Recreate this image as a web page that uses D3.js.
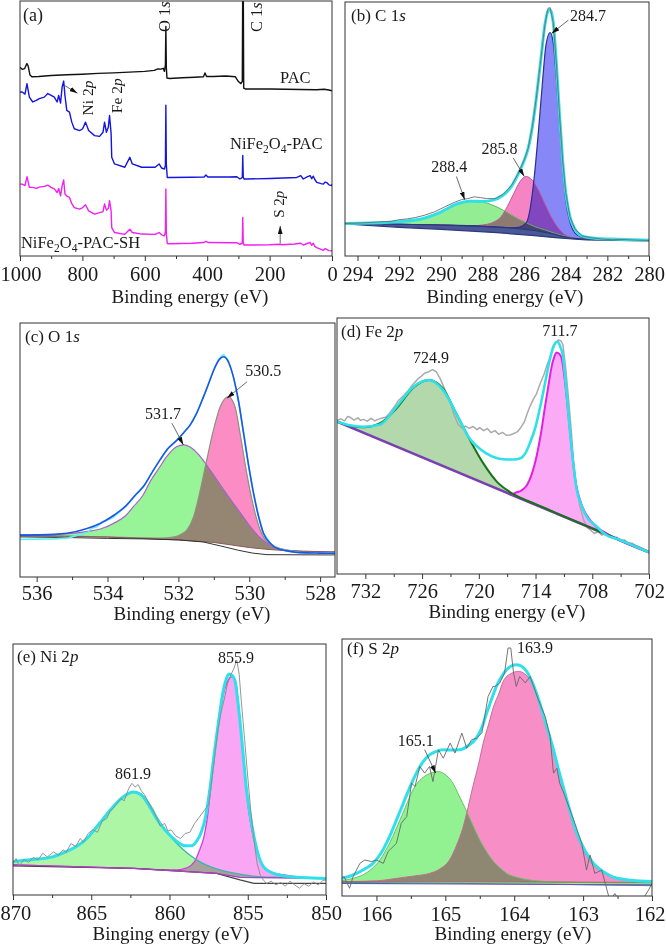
<!DOCTYPE html>
<html>
<head>
<meta charset="utf-8">
<script src="https://cdn.jsdelivr.net/npm/d3@7"></script>
<style>
  body { margin: 0; background: #fff; }
  text { font-family: "Liberation Serif", "Times New Roman", serif; fill: #1a1a1a; }
</style>
</head>
<body>
<script>
var w = 666;
var h = 947;

// ---------- (a) survey spectra, [binding energy, intensity] ----------
var surveyPAC = [[1000,74],[993,73.2],[985,73.5],[978,75.5],[974,74.6],[968,71],[962,70.3],[940,70.4],[900,70.8],[850,71.1],[800,71.3],[750,71.6],[700,71.8],[650,72.1],[600,72.4],[570,72.8],[558,73.4],[548,73.3],[541,73.6],[537,72.4],[534,75],[532.5,90],[531,74],[529,69.8],[520,69.6],[480,69.9],[440,70.1],[412,70.3],[407,71.8],[402,70.4],[380,70.4],[340,70.6],[310,70.3],[300,68.4],[292,67.6],[287.5,68.5],[286,110],[284.5,110],[283,65.8],[278,65.5],[200,65.5],[100,65.3],[50,65.2],[25,65.4],[10,65.1],[0,64.8]];
var surveyNiFe = [[1000,64.3],[993,64.3],[984,63.5],[977.6,67.6],[970,62.3],[959,60.4],[948,61.0],[938,61.7],[922,62.3],[911,63.7],[900,63.0],[890,62.3],[881,60.4],[876,63.0],[870,60.0],[865,66.3],[860,68.6],[856,63.0],[850,57.1],[841.5,56.4],[834,52.5],[826,49.9],[809,49.2],[799,49.9],[790,52.5],[780,49.2],[761,47.2],[745,46.9],[734,48.5],[729,52.5],[723,48.5],[717,50.5],[713,55.1],[708,48.0],[706,38.7],[697,36.1],[664,34.8],[648,38.7],[640,36.1],[610,34.8],[567,34.8],[554,36.1],[546,34.5],[537,34.1],[534,35.5],[532.5,59.1],[531,36],[528,30.8],[520,30.8],[450,30.9],[410,31.0],[404,31.8],[398,31.0],[330,31.0],[305,31.1],[295,30.2],[289,30.6],[287.5,31],[286,39.4],[284.5,31],[282,30.2],[273.6,30.2],[198.6,30.4],[113,30.8],[100,31.5],[92,30.2],[80,31.0],[70,31.5],[65,30.3],[60,31.3],[55,30.0],[49,28.9],[35,28.4],[27.6,28.2],[22,29.0],[17,28.8],[10,27.9],[1,27.6],[0,28.2]];
var surveySH = [[1000,28.2],[993,28.2],[984,27.6],[977.6,31.1],[970,26.9],[959,26.9],[948,26.5],[938,27.0],[922,27.3],[911,27.8],[900,26.9],[890,26.3],[881,24.9],[876,26.5],[870,23.6],[865,27.5],[860,29.8],[856,24.3],[850,23.5],[841.5,23.0],[834,20.5],[826,19.0],[809,18.4],[799,19.0],[790,20.1],[780,17.7],[761,16.4],[745,17.0],[734,17.4],[729,20.4],[723,18.0],[717,18.6],[713,21.7],[708,17.7],[706,11.1],[697,9.2],[664,8.5],[648,10.5],[640,9.2],[610,8.6],[567,8.5],[554,9.2],[546,8.3],[537,7.9],[534,9.5],[532.5,26.3],[531,9],[528,4.9],[520,4.8],[450,5.0],[410,5.3],[404,5.8],[398,5.3],[330,5.2],[305,5.2],[295,4.6],[289,4.9],[287.5,5.5],[286,15.1],[284.5,5.2],[282,4.3],[250,4.3],[200,4.4],[166,4.6],[160,4.4],[120,4.7],[100,5.0],[92,4.3],[80,4.9],[70,5.3],[65,4.2],[60,5.0],[55,3.8],[49,3.3],[35,2.6],[27.6,2.2],[22,2.9],[17,2.6],[10,2.1],[1,2.0],[0,2.4]];
var surveyTicks = [1000, 800, 600, 400, 200, 0];
var surveyMinor = [900, 700, 500, 300, 100];

// ---------- (b) C 1s ----------
var c1sRaw = [[294.6,12.8],[293.8,13.0],[293.0,13.4],[292.4,13.6],[292.0,14.3],[291.6,14.6],[291.2,15.2],[290.8,16.0],[290.3,17.4],[289.8,19.4],[289.3,21.3],[289.0,22.2],[288.7,22.6],[288.4,23.3],[288.1,23.0],[287.8,22.6],[287.4,22.6],[287.0,24.3],[286.6,27.8],[286.3,32.2],[286.0,37.7],[285.8,42.5],[285.6,51],[285.4,63],[285.2,77],[285.0,91],[284.85,97.5],[284.75,97.8],[284.6,92],[284.45,76],[284.3,56],[284.15,38],[284.0,25],[283.8,15.5],[283.55,10.5],[283.2,7.9],[282.8,7.2],[282.3,6.7],[281.8,6.4],[281.3,6.5],[280.8,6.3],[280,6.1]];
var c1sFit = [[294.6,12.8],[292.5,13.3],[291.0,14.5],[290.0,17.3],[289.2,20.6],[288.6,21.6],[288.0,21.5],[287.5,22.0],[287.0,24.0],[286.6,27.5],[286.3,32],[286.0,37.5],[285.8,42.5],[285.6,51],[285.4,63],[285.2,77],[285.0,91],[284.85,96.5],[284.75,97.0],[284.6,92],[284.45,76],[284.3,56],[284.15,38],[284.0,25],[283.8,15.5],[283.55,10.5],[283.2,7.8],[282.5,6.9],[281.5,6.6],[280,6.2]];
var c1sPeakC = [[294.6,12.8],[293,13.0],[292,13.4],[291,14.6],[290.2,16.8],[289.6,19.0],[289,20.8],[288.5,21.5],[288,21.2],[287.5,20.0],[287,18.0],[286.5,15.6],[286,13.5],[285.5,11.6],[285,10.3],[284.5,8.9],[284,7.8],[283.5,7.0],[283,6.6],[280,6.1]];
var c1sPeakB = [[294.6,12.8],[290,12.2],[288.5,11.9],[288,12.2],[287.5,13.2],[287.1,15.5],[286.8,19.5],[286.5,24.5],[286.2,29.2],[285.9,31.3],[285.6,29.8],[285.3,25.8],[285.0,20.5],[284.7,15.5],[284.4,11.5],[284.1,8.8],[283.8,7.4],[283.3,6.7],[280,6.1]];
var c1sPeakA = [[294.6,12.8],[290,12.2],[288,11.7],[287,11.3],[286.5,11.1],[286.2,11.4],[285.9,13],[285.7,19],[285.5,32],[285.3,50],[285.1,70],[284.95,83],[284.75,88],[284.6,84],[284.45,70],[284.3,52],[284.15,35],[284.0,22],[283.8,13.5],[283.55,9],[283.2,7.3],[282.5,6.7],[280,6.2]];
var c1sBase = [[294.6,12.8],[292,12.5],[290,12.2],[288,11.7],[286.5,11.0],[285.5,10.1],[284.8,9.0],[284.2,7.8],[283.7,7.0],[283,6.6],[280,6.1]];
var c1sBase2 = [[294.6,12.6],[292,11.3],[290,10.5],[287.3,9.2],[285.5,8.0],[284.5,7.2],[283.7,6.7],[283,6.3],[280,5.9]];
var c1sTicks = [294, 292, 290, 288, 286, 284, 282, 280];
var c1sMinor = [293, 291, 289, 287, 285, 283, 281];

// ---------- (c) O 1s ----------
var o1sRaw = [[536.47,14.8],[536,14.9],[535.5,15.0],[535.1,15.4],[534.8,16.6],[534.55,17.6],[534.45,19.2],[534.3,19.8],[534.15,21.6],[534.0,22.4],[533.85,23.4],[533.7,25.1],[533.5,27.6],[533.2,32.3],[532.99,35.4],[532.75,41.0],[532.52,46.1],[532.3,50.5],[532.04,53.9],[531.85,56.8],[531.67,59.8],[531.5,64.0],[531.29,71.0],[531.15,76.2],[531.0,81.8],[530.85,86.0],[530.73,87.6],[530.6,85.5],[530.45,79.0],[530.3,69.0],[530.16,56.6],[530.02,44.0],[529.88,33.0],[529.74,24.0],[529.6,17.2],[529.4,13.2],[529.22,11.3],[528.9,10.2],[528.56,9.6],[528,9.4],[527.58,9.3]];
var o1sFit = [[536.47,16.5],[535.5,16.8],[535.15,17.2],[534.6,19.0],[534.21,21.1],[533.8,24.5],[533.46,28.3],[533.2,32.5],[532.99,35.6],[532.75,41.0],[532.52,46.1],[532.3,50.5],[532.04,53.9],[531.85,56.8],[531.67,59.8],[531.5,64.0],[531.29,71.0],[531.15,76.0],[531.0,81.5],[530.85,85.5],[530.73,86.7],[530.6,85.0],[530.45,78.9],[530.3,69.0],[530.16,56.6],[530.02,44.0],[529.88,33.0],[529.74,24.0],[529.6,17.2],[529.4,13.2],[529.22,11.3],[528.9,10.2],[528.56,9.6],[528,9.4],[527.58,9.3]];
var o1sPeakA = [[536.47,16.5],[535.5,16.7],[535,17.2],[534.6,17.9],[534.2,18.9],[533.8,21.3],[533.5,24.0],[533.27,27.7],[533.0,32.2],[532.8,37.5],[532.55,42.8],[532.33,47.4],[532.05,51.3],[531.85,52],[531.6,50.5],[531.38,47.4],[531.15,43],[530.91,38.2],[530.68,33.5],[530.45,29.0],[530.2,24.3],[529.97,19.8],[529.75,16.2],[529.5,13.3],[529.03,10.6],[528.5,10.0],[527.58,9.9]];
var o1sPeakB = [[536.47,16.3],[534,15.8],[533,15.4],[532.5,15.3],[532.1,15.8],[531.9,17.0],[531.76,18.5],[531.57,23.7],[531.38,34.3],[531.2,46.1],[531.01,57.9],[530.82,67.0],[530.59,71.0],[530.4,67.0],[530.26,56.6],[530.07,40.8],[529.88,27.7],[529.69,18.5],[529.5,13.9],[529.03,10.9],[528.5,10.0],[527.58,9.8]];
var o1sBase = [[536.47,16.3],[535,16.0],[534,15.7],[533,15.2],[532,14.6],[531,13.6],[530.5,12.6],[530,11.6],[529.5,10.9],[529,10.4],[528,10.0],[527.58,9.8]];
var o1sShirley = [[536.47,15.8],[535,15.5],[534,15.2],[533,15.0],[532,14.6],[531.3,13.8],[530.8,12.2],[530.3,10.5],[529.9,9.4],[529.5,8.8],[528,8.7],[527.58,8.7]];
var o1sTicks = [536, 534, 532, 530, 528];
var o1sMinor = [535, 533, 531, 529];

// ---------- (d) Fe 2p ----------
var fe2pRaw = [[735,59.9],[734.6,60.6],[734.2,59.8],[733.9,61.5],[733.6,61.2],[733.2,60.1],[732.8,61.0],[732.5,60.0],[732.2,60.4],[731.8,59.7],[731.4,60.8],[731.0,59.8],[730.6,60.5],[730.2,60.9],[729.8,61.3],[729.4,63.0],[728.9,65.5],[728.5,67.8],[728.0,69.5],[727.5,71.5],[727.0,73.9],[726.5,76.0],[726.1,77.2],[725.7,78.5],[725.3,79.0],[724.9,79.8],[724.5,79.0],[724.1,76.4],[723.7,73.0],[723.3,69.5],[723.0,66.7],[722.6,62.0],[722.2,58.5],[721.8,57.0],[721.4,57.8],[721.0,56.9],[720.6,57.6],[720.2,56.4],[719.9,57.2],[719.5,56.0],[719.1,56.8],[718.7,55.2],[718.3,56.0],[717.9,54.6],[717.5,55.3],[717.1,54.2],[716.7,54.3],[716.3,54.9],[715.9,55.6],[715.6,57.0],[715.2,59.3],[714.9,62.5],[714.6,65.4],[714.2,68.5],[713.9,70.4],[713.5,74.5],[713.1,78.0],[712.8,81.5],[712.5,84.3],[712.2,87.5],[711.9,90.0],[711.6,91.4],[711.3,91.0],[711.1,89.5],[710.8,80.0],[710.5,68.0],[710.2,55.0],[710.0,44.5],[709.7,35.0],[709.3,26.3],[708.9,21.0],[708.5,18.0],[708.2,17.2],[707.8,15.8],[707.4,16.5],[707.0,15.2],[706.6,15.7],[706.2,14.5],[705.8,13.9],[705.4,14.4],[705.0,13.0],[704.6,13.3],[704.2,12.1],[703.8,12.0],[703.4,11.2],[703.0,10.6],[702.6,9.8],[702.2,9.1],[702,8.5]];
var fe2pFit = [[735,59.5],[733.5,58.0],[732.2,57.5],[730.45,58.4],[728.7,65.4],[726.9,73.2],[725.3,75.8],[723.8,71.9],[722.2,61.4],[721.1,53.6],[719.2,47.1],[717.4,44.8],[716.3,44.7],[715.6,45.2],[715.1,47.0],[714.6,51.1],[714.0,57.5],[713.5,65.4],[713.0,74.5],[712.5,83.6],[712.1,89.0],[711.7,90.7],[711.4,89.0],[711.1,84.9],[710.75,72.0],[710.4,57.5],[710.05,44.5],[709.7,34.1],[709.1,26.5],[708.6,22.4],[707.6,18.8],[706.8,15.9],[705,13.2],[702,8.5]];
var fe2pPeakA = [[735,59.5],[733.5,57.8],[732.2,57.3],[730.45,58.9],[728.7,64.7],[726.9,72.9],[725.3,75.8],[723.8,72.5],[722.4,62.8],[720.93,52.3],[719.52,43.2],[718.1,36.1],[716.7,32.0],[715.5,29.6],[714,27.3],[712,24.1],[708,17.8],[702,8.5]];
var fe2pPeakB = [[716.5,30.9],[716.2,31.6],[715.5,32.6],[714.9,34.8],[714.4,39.0],[713.9,45.8],[713.4,55.5],[713.0,65.4],[712.6,74.5],[712.3,81.0],[712.0,85.0],[711.8,86.5],[711.5,86.0],[711.2,83.6],[710.85,74.0],[710.5,61.4],[710.15,48.0],[709.8,36.7],[709.35,29.5],[708.9,25.0],[708.2,21.0],[707.5,18.2],[706.5,15.9],[705.8,14.4],[702,8.5]];
var fe2pBase = [[735,59.5],[702,8.5]];
var fe2pTicks = [732, 726, 720, 714, 708, 702];
var fe2pMinor = [729, 723, 717, 711, 705];

// ---------- (e) Ni 2p ----------
var ni2pRaw = [[870.0,12.5],[869.8,14.5],[869.6,11.5],[869.3,14.2],[869.0,13.0],[868.7,15.0],[868.4,14.0],[868.1,16.6],[867.8,15.2],[867.4,17.2],[867.1,15.8],[866.8,18.0],[866.6,17.0],[866.3,20.5],[866.0,19.3],[865.7,22.5],[865.5,21.0],[865.2,24.5],[864.9,26.0],[864.6,25.0],[864.3,29.5],[864.0,30.5],[863.8,33.5],[863.6,34.5],[863.3,37.0],[863.1,38.5],[862.9,37.5],[862.6,42.5],[862.4,44.5],[862.2,43.0],[862.0,44.0],[861.8,41.5],[861.6,40.0],[861.4,37.5],[861.2,35.0],[861.0,33.0],[860.8,30.5],[860.6,27.5],[860.3,28.5],[860.1,25.5],[859.9,26.0],[859.6,23.5],[859.3,22.5],[859.0,24.5],[858.7,25.0],[858.4,28.5],[858.1,31.0],[857.8,33.5],[857.5,36.0],[857.3,45.8],[857.1,56.0],[856.9,66.0],[856.7,73.0],[856.5,78.0],[856.3,84.0],[856.1,87.5],[855.9,90.0],[855.7,93.6],[855.55,88.0],[855.4,76.4],[855.2,62.0],[855.0,47.0],[854.8,33.0],[854.6,22.0],[854.4,12.5],[854.2,8.0],[854.0,6.0],[853.8,4.6],[853.5,5.5],[853.2,4.0],[852.9,5.0],[852.6,3.5],[852.3,5.5],[852.0,4.0],[851.7,2.7],[851.4,4.5],[851.1,3.5],[850.8,5.2],[850.5,4.0],[850.2,5.8],[850.0,6.0]];
var ni2pFit = [[870,13.3],[868.5,14.3],[867.6,15.0],[866.6,17.3],[865.9,19.5],[865.2,23.0],[864.65,27.2],[864.1,31.4],[863.6,35.2],[863.1,38.4],[862.7,40.2],[862.3,41.0],[861.8,39.8],[861.3,35.5],[860.8,30.2],[860.3,26.0],[859.8,22.8],[859.4,20.7],[859.0,19.6],[858.6,19.6],[858.3,21.2],[858.0,24.5],[857.7,31.0],[857.4,43.1],[857.2,53.5],[857.0,63.1],[856.8,72.0],[856.6,80.4],[856.4,85.5],[856.2,88.0],[856.0,87.5],[855.8,85.0],[855.65,78.0],[855.5,69.7],[855.3,56.5],[855.1,43.1],[854.85,32.0],[854.6,23.2],[854.3,15.5],[854.0,11.3],[853.5,9.0],[852.7,7.6],[851.5,7.0],[850,6.6]];
var ni2pPeakA = [[870,13.3],[868.5,14.2],[867.6,15.0],[866.6,17.2],[865.9,19.5],[865.2,23.0],[864.65,27.0],[864.1,31.5],[863.6,35.2],[863.1,38.5],[862.7,40.3],[862.3,41.2],[861.9,40.6],[861.5,38.3],[861.1,34.5],[860.8,31.0],[860.4,27.0],[859.8,22.3],[859.2,18.5],[858.6,15.4],[858.0,13.0],[857.4,11.3],[856.6,9.7],[855.6,8.4],[854.5,7.4],[853,7.0],[850,6.6]];
var ni2pPeakB = [[870,12.0],[862.3,10.6],[859.5,10.0],[858.9,10.8],[858.4,13.3],[858.1,17.5],[857.8,23.2],[857.6,30.0],[857.4,40.5],[857.2,51.5],[857.0,61.8],[856.8,71.0],[856.6,79.0],[856.3,85.0],[856.0,87.0],[855.8,85.5],[855.6,76.4],[855.45,66.0],[855.3,56.4],[855.15,46.0],[855.0,36.5],[854.75,26.5],[854.5,19.2],[854.25,14.5],[854.0,11.3],[853.5,9.0],[852.7,8.0],[851.5,7.0],[850,6.6]];
var ni2pBase = [[870,12.0],[862.3,10.6],[857,8.6],[855.5,7.0],[850,6.6]];
var ni2pShirley = [[870,11.6],[862.3,10.6],[857,8.6],[855.5,6.0],[854.6,4.6],[850,4.6]];
var ni2pTicks = [870, 865, 860, 855, 850];
var ni2pMinor = [867.5, 862.5, 857.5, 852.5];

// ---------- (f) S 2p ----------
var s2pRaw = [[166.5,6.9],[166.47,7.5],[166.39,3.0],[166.34,7.5],[166.24,12.7],[166.17,14.0],[166.07,13.4],[166.0,14.0],[165.9,12.7],[165.83,17.3],[165.71,20.5],[165.64,28.3],[165.56,30.9],[165.49,43.9],[165.44,42.6],[165.37,50.4],[165.3,47.8],[165.23,50.4],[165.18,44.5],[165.1,56.9],[165.03,53.6],[164.93,59.5],[164.86,55.6],[164.76,63.4],[164.69,57.5],[164.62,60.8],[164.55,61.4],[164.47,63.4],[164.38,77.6],[164.31,81.5],[164.28,81.5],[164.21,82.9],[164.14,86.8],[164.09,96.5],[164.05,96.5],[164.01,86.8],[163.97,81.5],[163.92,85.4],[163.84,82.9],[163.77,85.4],[163.65,76.4],[163.55,69.8],[163.48,62.1],[163.43,47.8],[163.38,49.7],[163.34,43.9],[163.26,38.7],[163.19,33.5],[163.12,28.3],[163.02,20.5],[162.95,10.1],[162.9,16.0],[162.83,8.8],[162.73,10.1],[162.61,-2],[162.54,1.0],[162.45,-3],[162.3,-4],[162.15,-2],[162.05,2.3],[162.0,4.9]];
var s2pFit = [[166.5,6.9],[166.4,7.6],[166.29,8.8],[166.17,10.5],[166.05,12.7],[165.93,16.8],[165.81,23.1],[165.71,29.5],[165.61,36.1],[165.52,42.0],[165.42,47.8],[165.33,52.0],[165.23,54.9],[165.13,56.3],[165.03,56.9],[164.91,56.8],[164.79,56.9],[164.67,58.5],[164.55,61.4],[164.47,65.5],[164.4,71.2],[164.33,76.5],[164.26,81.5],[164.18,85.5],[164.11,88.0],[164.04,89.5],[163.97,90.0],[163.9,89.5],[163.82,87.4],[163.72,82.0],[163.63,75.1],[163.53,66.0],[163.43,56.9],[163.36,49.5],[163.29,42.6],[163.19,33.0],[163.09,24.4],[162.97,17.5],[162.85,12.7],[162.7,9.3],[162.56,7.3],[162.3,6.1],[162,5.6]];
var s2pPeakA = [[166.5,6.0],[166.35,6.8],[166.2,8.2],[166.07,10.5],[165.95,14.0],[165.83,19.5],[165.7,27.0],[165.58,34.5],[165.47,41.3],[165.37,45.0],[165.27,47.1],[165.1,48.4],[164.98,46.8],[164.89,43.9],[164.8,39.0],[164.7,33.5],[164.6,27.5],[164.5,21.8],[164.4,17.2],[164.3,13.4],[164.2,10.8],[164.11,8.8],[163.95,7.2],[163.77,6.2],[163.4,5.5],[162.5,5.1],[162,5.0]];
var s2pPeakB = [[166.5,5.6],[166,5.9],[165.7,6.9],[165.45,7.8],[165.23,8.8],[165.08,10.5],[164.94,14.0],[164.84,19.5],[164.74,27.0],[164.67,34.5],[164.6,42.6],[164.52,51.0],[164.45,59.5],[164.37,67.0],[164.3,73.7],[164.22,79.0],[164.16,83.5],[164.05,86.5],[163.94,87.4],[163.85,86.5],[163.77,84.1],[163.68,78.5],[163.58,71.2],[163.48,61.5],[163.38,51.7],[163.29,41.8],[163.19,32.2],[163.1,24.5],[163.0,17.9],[162.9,13.5],[162.8,10.8],[162.65,8.4],[162.46,6.9],[162.2,6.0],[162,5.6]];
var s2pBaseA = [[166.5,5.3],[163.5,4.6],[162,4.0]];
var s2pBaseB = [[166.5,5.6],[162,5.3]];
var s2pShirley = [[166.5,4.9],[162,4.3]];
var s2pTicks = [166, 165, 164, 163, 162];
var s2pMinor = [165.5, 164.5, 163.5, 162.5];

// ---------- drawing ----------
var svg = d3.select("body").append("svg").attr("width", w).attr("height", h);
var defs = svg.append("defs");

defs.append("marker")
  .attr("id", "arrow")
  .attr("viewBox", "0 0 10 6")
  .attr("refX", 10).attr("refY", 3)
  .attr("markerWidth", 8).attr("markerHeight", 5)
  .attr("markerUnits", "userSpaceOnUse")
  .attr("orient", "auto")
  .append("path").attr("d", "M0,0L10,3L0,6Z").attr("fill", "#111");

//one panel = frame, clip, ticks, labels
function makePanel(id, box, xDomain, major, minor, labelY, titleX, titleY, title) {
  var p = {};
  p.x = d3.scaleLinear().domain(xDomain).range([box[0], box[2]]);
  p.y = d3.scaleLinear().domain([0, 100]).range([box[3], box[1]]);
  p.g = svg.append("g");
  defs.append("clipPath").attr("id", "clip-" + id).append("rect")
    .attr("x", box[0]).attr("y", box[1])
    .attr("width", box[2] - box[0]).attr("height", box[3] - box[1]);
  var plot = p.g.append("g").attr("clip-path", "url(#clip-" + id + ")");
  p.fills = plot.append("g").style("isolation", "isolate");
  p.lines = plot.append("g");

  var axisG = p.g.append("g").attr("transform", "translate(0," + box[3] + ")");
  axisG.append("g").call(d3.axisBottom(p.x).tickValues(minor).tickSize(3).tickFormat(""));
  var majorG = axisG.append("g")
    .call(d3.axisBottom(p.x).tickValues(major).tickSize(5).tickFormat(d3.format("d")));
  majorG.attr("font-size", 20.5).attr("font-family", null);
  majorG.selectAll("text").attr("y", labelY - box[3]).attr("dy", null)
    .each(function (d) {
      // keep the edge labels inside the page
      var tw = this.getComputedTextLength(), tx = p.x(d);
      if (tx - tw / 2 < 0) d3.select(this).attr("text-anchor", "start").attr("x", -tx);
      if (tx + tw / 2 > w) d3.select(this).attr("text-anchor", "end").attr("x", w - 1 - tx);
    });
  axisG.selectAll(".domain").remove();
  axisG.selectAll(".tick line").attr("stroke", "#333");

  p.g.append("rect")
    .attr("x", box[0]).attr("y", box[1])
    .attr("width", box[2] - box[0]).attr("height", box[3] - box[1])
    .attr("fill", "none").attr("stroke", "#333").attr("stroke-width", 1);

  p.g.append("text").attr("x", titleX).attr("y", titleY)
    .attr("text-anchor", "middle").attr("font-size", 19).text(title);
  return p;
}

function lineOf(p, curve) {
  return d3.line().x(function (d) { return p.x(d[0]); }).y(function (d) { return p.y(d[1]); })
    .curve(curve || d3.curveLinear);
}

function drawLine(p, data, color, width, smooth) {
  p.lines.append("path")
    .attr("d", lineOf(p, smooth ? d3.curveMonotoneX : d3.curveLinear)(data))
    .attr("fill", "none").attr("stroke", color).attr("stroke-width", width)
    .attr("stroke-linejoin", "round");
}

//area between a fitted peak and its own background, multiplied so overlaps darken
function drawFill(p, data, base, color, smooth) {
  var d = lineOf(p, smooth === false ? d3.curveLinear : d3.curveMonotoneX)(data) +
    lineOf(p)(base.slice().reverse()).replace("M", "L") + "Z";
  p.fills.append("path").attr("d", d).attr("fill", color).style("mix-blend-mode", "multiply");
}

function label(g, x, y, parts, size, rotate) {
  var t = g.append("text").attr("font-size", size);
  if (rotate) t.attr("transform", "translate(" + x + "," + y + ") rotate(-90)");
  else t.attr("x", x).attr("y", y);
  parts.forEach(function (pt) {
    var s = t.append("tspan").text(pt[0]);
    if (pt[1] === "i") s.attr("font-style", "italic");
    if (pt[1] === "sub") s.attr("font-size", size * 0.7).attr("dy", size * 0.25);
    if (pt[1] === "up") s.attr("dy", -size * 0.25);
  });
}

function peakLabel(p, e, v, txt) {
  label(p.g, p.x(e), p.y(v), [[txt]], 16);
}

function arrow(p, from, to) {
  p.g.append("line")
    .attr("x1", p.x(from[0])).attr("y1", p.y(from[1]))
    .attr("x2", p.x(to[0])).attr("y2", p.y(to[1]))
    .attr("stroke", "#444").attr("stroke-width", 0.8)
    .attr("marker-end", "url(#arrow)");
}

var cyan = "#2fe0ea";

// (a) survey
var pa = makePanel("a", [20, 1, 332, 256], [1000, 0], surveyTicks, surveyMinor, 281, 190, 303, "Binding energy (eV)");
drawLine(pa, surveyPAC, "#111", 1.4);
drawLine(pa, surveyNiFe, "#1515e0", 1.4);
drawLine(pa, surveySH, "#f020f0", 1.4);
label(pa.g, 23, 21, [["(a)"]], 18);
label(pa.g, pa.x(520), pa.y(87.8), [["O 1"], ["s", "i"]], 16.5, true);
label(pa.g, pa.x(224), pa.y(87.8), [["C 1"], ["s", "i"]], 16.5, true);
label(pa.g, pa.x(767), pa.y(55.1), [["Ni 2"], ["p", "i"]], 15.5, true);
label(pa.g, pa.x(674), pa.y(56), [["Fe 2"], ["p", "i"]], 15.5, true);
label(pa.g, pa.x(153), pa.y(15), [["S 2"], ["p", "i"]], 15, true);
label(pa.g, pa.x(166.6), pa.y(67.7), [["PAC"]], 16.5);
label(pa.g, pa.x(327), pa.y(42.1), [["NiFe"], ["2", "sub"], ["O", "up"], ["4", "sub"], ["-PAC", "up"]], 16.5);
label(pa.g, pa.x(997), pa.y(3.2), [["NiFe"], ["2", "sub"], ["O", "up"], ["4", "sub"], ["-PAC-SH", "up"]], 16.5);
arrow(pa, [857.6, 66.9], [815.8, 63.8]);
arrow(pa, [166, 5.0], [166, 11.8]);

// (b) C 1s
var pb = makePanel("b", [345, 2, 649, 256], [294.6, 280], c1sTicks, c1sMinor, 281, 505, 303, "Binding energy (eV)");
drawFill(pb, c1sBase, c1sBase2, "#4a5898", false);
drawFill(pb, c1sPeakC, c1sBase, "#93ee93");
drawFill(pb, c1sPeakB, c1sBase, "#f584c4");
drawFill(pb, c1sPeakA, c1sBase, "#8787f7");
drawLine(pb, c1sPeakC, "#5fb55f", 1, true);
drawLine(pb, c1sPeakB, "#c2559a", 1, true);
drawLine(pb, c1sPeakA, "#2b2f8f", 1.2, true);
drawLine(pb, c1sBase, "#2b3a7a", 1.2);
drawLine(pb, c1sBase2, "#2b3a7a", 1.2);
drawLine(pb, c1sFit, cyan, 3, true);
drawLine(pb, c1sRaw, "#6d6d6d", 0.9);
label(pb.g, 351, 21, [["(b)  C 1"], ["s", "i"]], 17);
peakLabel(pb, 283.8, 92.5, "284.7");
peakLabel(pb, 288.05, 40.1, "285.8");
peakLabel(pb, 290.46, 32.9, "288.4");
arrow(pb, [283.87, 92.9], [284.68, 87.6]);
arrow(pb, [286.52, 38.6], [285.99, 31.3]);
arrow(pb, [289.25, 31.3], [288.85, 22.1]);

// (c) O 1s
var pc = makePanel("c", [20, 323, 335, 577], [536.47, 527.58], o1sTicks, o1sMinor, 600, 192, 620, "Binding energy (eV)");
drawFill(pc, o1sPeakA, o1sBase, "#97f597");
drawFill(pc, o1sPeakB, o1sBase, "#fb8cc4");
drawLine(pc, o1sPeakA, "#a565c8", 1.2, true);
drawLine(pc, o1sPeakB, "#8f8f80", 1.2, true);
drawLine(pc, o1sBase, "#8a5a5a", 1);
drawLine(pc, o1sShirley, "#333", 1);
drawLine(pc, o1sRaw, "#5ff0f0", 1.6);
drawLine(pc, o1sFit, "#1f55e6", 1.6, true);
label(pc.g, 25, 342, [["(c)   O 1"], ["s", "i"]], 17);
peakLabel(pc, 530.11, 79.1, "530.5");
peakLabel(pc, 532.94, 62.2, "531.7");
arrow(pc, [530.06, 76.9], [530.63, 70.4]);
arrow(pc, [532.18, 60.5], [531.86, 52.0]);

// (d) Fe 2p
var pd = makePanel("d", [337, 318, 649, 574], [735, 702], fe2pTicks, fe2pMinor, 598, 507, 618, "Binding energy (eV)");
drawFill(pd, fe2pPeakA, fe2pBase, "#b3d8ab");
drawFill(pd, fe2pPeakB, fe2pBase, "#fbaaf6");
drawLine(pd, fe2pRaw, "#aaaaaa", 1.5);
drawLine(pd, fe2pBase, "#7a3fb0", 2.6);
drawLine(pd, fe2pPeakB, "#e41ee4", 2, true);
drawLine(pd, fe2pPeakA, "#177317", 2, true);
drawLine(pd, fe2pFit, cyan, 2.6, true);
label(pd.g, 341, 337, [["(d)  Fe 2"], ["p", "i"]], 17);
peakLabel(pd, 713.3, 93.0, "711.7");
peakLabel(pd, 726.96, 82.4, "724.9");

// (e) Ni 2p
var pe = makePanel("e", [13, 644, 326, 895], [870, 850], ni2pTicks, ni2pMinor, 920, 171, 940, "Binging energy (eV)");
drawFill(pe, ni2pPeakA, ni2pBase, "#acf6a6");
drawFill(pe, ni2pPeakB, ni2pBase, "#f9a6f5");
drawLine(pe, ni2pPeakB, "#d23ed2", 1.3, true);
drawLine(pe, ni2pPeakA, "#35b8a8", 1.3, true);
drawLine(pe, ni2pShirley, "#444", 1.2);
drawLine(pe, ni2pBase, "#b040c0", 1.2);
drawLine(pe, ni2pFit, cyan, 3, true);
drawLine(pe, ni2pRaw, "#8a8a8a", 0.9);
label(pe.g, 17, 662, [["(e)  Ni 2"], ["p", "i"]], 17);
peakLabel(pe, 856.9, 92.4, "855.9");
peakLabel(pe, 863.48, 46.2, "861.9");

// (f) S 2p
var pf = makePanel("f", [342, 639, 652, 896], [166.5, 162], s2pTicks, s2pMinor, 921, 513, 940, "Binding energy (eV)");
drawFill(pf, s2pPeakA, s2pBaseA, "#92f292");
drawFill(pf, s2pPeakB, s2pBaseB, "#f88ec6");
drawLine(pf, s2pPeakA, "#6bc06b", 1, true);
drawLine(pf, s2pPeakB, "#c86a98", 1, true);
drawLine(pf, s2pBaseB, "#b06070", 1);
drawLine(pf, s2pBaseA, "#3aa06a", 1);
drawLine(pf, s2pShirley, "#6a4fc0", 1.2);
drawLine(pf, s2pFit, cyan, 3, true);
drawLine(pf, s2pRaw, "#666", 0.9);
label(pf.g, 347, 654, [["(f)   S 2"], ["p", "i"]], 17);
peakLabel(pf, 163.96, 94.7, "163.9");
peakLabel(pf, 165.69, 58.4, "165.1");
arrow(pf, [165.30, 56.9], [165.14, 47.8]);
</script>
</body>
</html>
